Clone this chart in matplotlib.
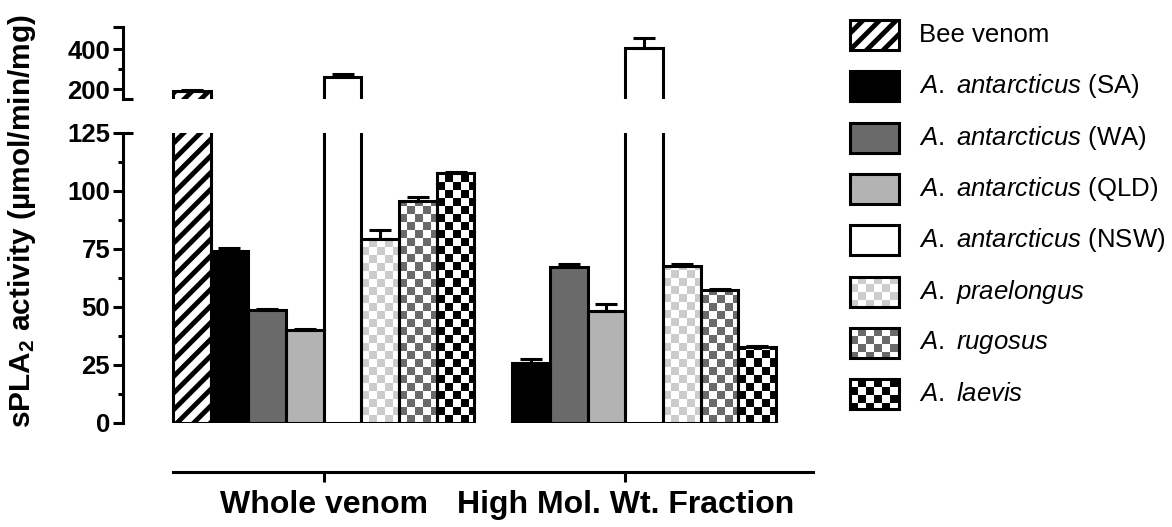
import numpy as np
import matplotlib.pyplot as plt
from matplotlib.patches import Rectangle
from matplotlib.colors import to_rgba

plt.rcParams['font.family'] = 'Liberation Sans'
plt.rcParams['mathtext.fontset'] = 'custom'
plt.rcParams['mathtext.it'] = 'Liberation Sans:italic'
plt.rcParams['mathtext.bf'] = 'Liberation Sans:bold'
plt.rcParams['mathtext.rm'] = 'Liberation Sans'
plt.rcParams['hatch.linewidth'] = 3.5

groups = ['Whole venom', 'High Mol. Wt. Fraction']
labels = ['Bee venom',
          r'$\mathit{A.}$ $\mathit{antarcticus}$ (SA)',
          r'$\mathit{A.}$ $\mathit{antarcticus}$ (WA)',
          r'$\mathit{A.}$ $\mathit{antarcticus}$ (QLD)',
          r'$\mathit{A.}$ $\mathit{antarcticus}$ (NSW)',
          r'$\mathit{A.}$ $\mathit{praelongus}$',
          r'$\mathit{A.}$ $\mathit{rugosus}$',
          r'$\mathit{A.}$ $\mathit{laevis}$']
whole = [190, 74.3, 48.7, 40.2, 260, 79.3, 95.8, 107.8]
whole_err = [5, 1.0, 0.6, 0.2, 15, 4.0, 1.4, 0.5]
hmw = [np.nan, 25.9, 67.4, 48.3, 405, 67.7, 57.3, 32.9]
hmw_err = [np.nan, 1.6, 1.0, 3.0, 50, 1.0, 0.3, 0.3]

fills = ['white', 'black', '#6a6a6a', '#b3b3b3', 'white', 'white', 'white', 'white']
checks = [None, None, None, None, None, '#cccccc', '#6a6a6a', 'black']
hatches = ['//', None, None, None, None, None, None, None]

W, H = 1172, 527
BW = 0.125
XLIM = (-0.6656, 1.6225)
LW = 2.2

fig = plt.figure(figsize=(W / 100, H / 100), dpi=100)


def px_axes(left, top, right, bottom):
    a = fig.add_axes([left / W, 1 - bottom / H, (right - left) / W, (bottom - top) / H])
    a.patch.set_visible(False)
    return a


def checker(ax, bar, color, cell=8):
    # checkerboard fill, clipped to the bar and to the visible y range
    x0, y0 = bar.get_x(), bar.get_y()
    w, h = bar.get_width(), bar.get_height()
    lo, hi = sorted(ax.get_ylim())
    y1 = min(y0 + h, hi)
    y0 = max(y0, lo)
    if y1 <= y0:
        return
    (px0, py0), (px1, py1) = ax.transData.transform([(x0, y0), (x0 + w, y1)])
    pw, ph = abs(px1 - px0), abs(py1 - py0)
    nx, ny = int(np.ceil(pw / cell)), int(np.ceil(ph / cell))
    dx, dy = w * cell / pw, (y1 - y0) * cell / ph
    grid = np.add.outer(np.arange(ny), np.arange(nx)) % 2
    img = np.where(grid[..., None] == 1, to_rgba(color), to_rgba('white'))
    im = ax.imshow(img, extent=(x0, x0 + nx * dx, y0, y0 + ny * dy), origin='lower',
                   interpolation='nearest', aspect='auto', zorder=bar.get_zorder() + 0.1)
    im.set_clip_path(bar)


def bold_ticks(ax):
    for t in ax.get_xticklabels() + ax.get_yticklabels():
        t.set_fontweight('bold')


def draw_bars(ax, ylim):
    ax.set_xlim(XLIM)
    ax.set_ylim(ylim)
    for i in range(len(labels)):
        xs = np.arange(2) + (i - 3.5) * BW
        vals = np.array([whole[i], hmw[i]])
        errs = np.array([whole_err[i], hmw_err[i]])
        ok = ~np.isnan(vals)
        fill = ax.bar(xs[ok], vals[ok], BW, color=fills[i], hatch=hatches[i],
                      edgecolor='black', linewidth=0, zorder=2)
        if checks[i]:
            for b in fill:
                checker(ax, b, checks[i])
        ax.bar(xs[ok], vals[ok], BW, facecolor='none', edgecolor='black',
               linewidth=LW, zorder=3)
        ax.errorbar(xs[ok], vals[ok], yerr=[np.zeros(ok.sum()), errs[ok]], fmt='none',
                    ecolor='black', elinewidth=LW, capsize=8, capthick=LW, zorder=4)
    ax.set_xlim(XLIM)
    ax.set_ylim(ylim)
    for s in ['top', 'right', 'bottom']:
        ax.spines[s].set_visible(False)
    ax.spines['left'].set_linewidth(LW)
    ax.set_xticks([])
    ax.tick_params(axis='y', which='major', length=7.2, width=LW, labelsize=18.5, pad=2)
    ax.tick_params(axis='y', which='minor', length=3.6, width=LW)


ax_hi = px_axes(123, 26.7, 813, 99.3)
ax_lo = px_axes(123, 133, 813, 423)
ax_x = px_axes(123, 462, 813, 472)

draw_bars(ax_lo, (0, 125))
ax_lo.set_yticks(np.arange(0, 126, 25))
ax_lo.set_yticks(np.arange(12.5, 125, 25), minor=True)
ax_lo.spines['left'].set_bounds(0, 125)
ax_lo.plot([0, 0.0145], [125, 125], transform=ax_lo.get_yaxis_transform(),
           color='black', lw=LW, clip_on=False, solid_capstyle='butt')
bold_ticks(ax_lo)

draw_bars(ax_hi, (150, 513))
ax_hi.set_yticks([200, 400])
ax_hi.set_yticks([300], minor=True)
ax_hi.plot([0, 0.0145], [150, 150], transform=ax_hi.get_yaxis_transform(),
           color='black', lw=LW, clip_on=False, solid_capstyle='butt')
ax_hi.plot([-0.0145, 0], [513, 513], transform=ax_hi.get_yaxis_transform(),
           color='black', lw=LW, clip_on=False, solid_capstyle='butt')
bold_ticks(ax_hi)

ax_x.set_xlim(XLIM)
for s in ['top', 'right', 'left']:
    ax_x.spines[s].set_visible(False)
ax_x.spines['bottom'].set_linewidth(LW)
ax_x.spines['bottom'].set_bounds(-0.5, XLIM[1])
ax_x.set_yticks([])
ax_x.set_xticks([0, 1], groups)
ax_x.tick_params(axis='x', length=7.2, width=LW, labelsize=23, pad=6)
bold_ticks(ax_x)

fig.text(22 / W, 1 - 221 / H, r'sPLA$_\mathbf{2}$ activity (µmol/min/mg)', rotation=90,
         ha='center', va='center', fontsize=21.5, fontweight='bold')

# legend drawn by hand so the checker fills show in the boxes
leg = fig.add_axes([0, 0, 1, 1])
leg.patch.set_visible(False)
leg.axis('off')
leg.set_xlim(0, W)
leg.set_ylim(H, 0)
for i, lab in enumerate(labels):
    y = 35 + i * 51.3
    box = Rectangle((850, y - 15), 49, 30, facecolor=fills[i], hatch=hatches[i],
                    edgecolor='black', linewidth=0, zorder=2)
    leg.add_patch(box)
    if checks[i]:
        checker(leg, box, checks[i])
    leg.add_patch(Rectangle((850, y - 15), 49, 30, facecolor='none', edgecolor='black',
                            linewidth=LW, zorder=3))
    leg.text(919, y, lab, fontsize=18.5, va='center', ha='left')
leg.set_xlim(0, W)
leg.set_ylim(H, 0)

fig.savefig('out.png', dpi=100)
